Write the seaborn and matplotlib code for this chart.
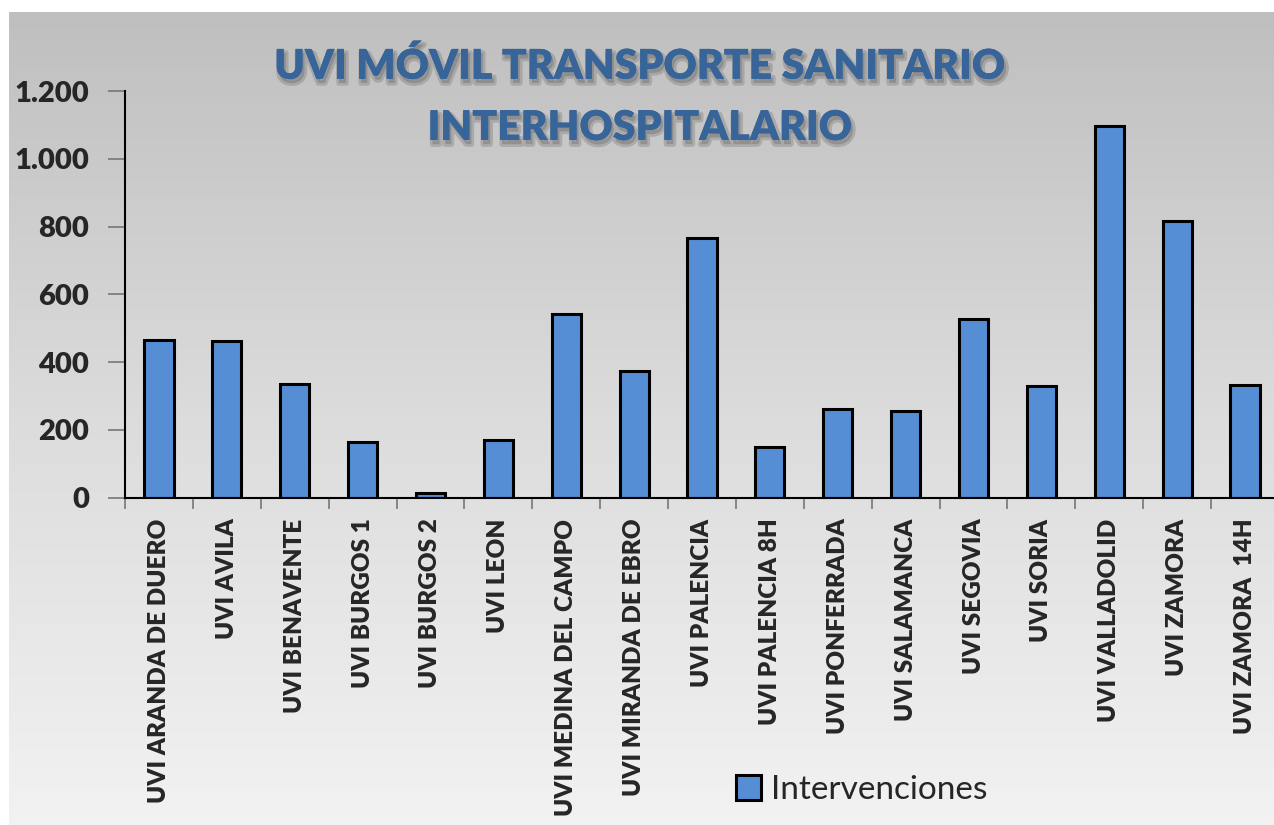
import numpy as np
import pandas as pd
import matplotlib
matplotlib.use("Agg")
import matplotlib.pyplot as plt
import matplotlib.patheffects as pe
from matplotlib.ticker import FuncFormatter
import seaborn as sns

# datos
unidades = ["UVI ARANDA DE DUERO", "UVI AVILA", "UVI BENAVENTE", "UVI BURGOS 1",
            "UVI BURGOS 2", "UVI LEON", "UVI MEDINA DEL CAMPO", "UVI MIRANDA DE EBRO",
            "UVI PALENCIA", "UVI PALENCIA 8H", "UVI PONFERRADA", "UVI SALAMANCA",
            "UVI SEGOVIA", "UVI SORIA", "UVI VALLADOLID", "UVI ZAMORA", "UVI ZAMORA  14H"]
intervenciones = [465, 462, 335, 164, 15, 170, 542, 375, 767, 151, 263, 257, 528, 329, 1098, 817, 334]
serie = "Intervenciones"
titulo = ["UVI MÓVIL TRANSPORTE SANITARIO", "INTERHOSPITALARIO"]

df = pd.DataFrame({"unidad": unidades, "valor": intervenciones, "serie": serie})

sns.set_style("white")
plt.rcParams['font.family'] = ['Lato', 'DejaVu Sans']

W, H = 1274, 825
fig = plt.figure(figsize=(W / 100, H / 100), dpi=100)
fig.patch.set_facecolor("white")

# fondo degradado
bg = fig.add_axes([9 / W, 0, 1, 1 - 12 / H], zorder=-5)
grad = np.linspace(0, 1, 256).reshape(-1, 1)
bg.imshow(grad, aspect="auto", cmap=matplotlib.colors.LinearSegmentedColormap.from_list(
    "g", ["#bfbfbf", "#dcdcdc", "#f2f2f2"]), extent=[0, 1, 0, 1])
bg.axis("off")

ax = fig.add_axes([125 / W, (H - 497.7) / H, 1154 / W, 406.7 / H])
ax.set_facecolor("none")

sns.barplot(data=df, x="unidad", y="valor", hue="serie", palette=["#558ED5"], saturation=1,
            width=0.43, edgecolor="black", linewidth=2.2, ax=ax, legend=True)

ax.set_xlim(-0.5, 16.5)
ax.set_ylim(0, 1200)
ax.set_yticks(range(0, 1201, 200))
ax.yaxis.set_major_formatter(FuncFormatter(lambda v, p: f"{int(v):,}".replace(",", ".")))
ax.set_xticks(np.arange(-0.5, 16.5, 1), minor=False)
ax.set_xticklabels([])
ax.set_xticks(np.arange(0, 17), minor=True)
ax.set_xticklabels(unidades, minor=True, rotation=90, fontsize=17.5, fontweight="heavy", va="top")
ax.tick_params(axis="x", which="major", direction="out", length=8, width=1.2, color="#777777", bottom=True)
ax.tick_params(axis="x", which="minor", length=0, pad=15)
ax.tick_params(axis="y", direction="out", length=12, width=1.2, color="#777777", left=True, pad=14)
for t in ax.get_yticklabels():
    t.set_fontsize(21)
    t.set_fontweight("heavy")
ax.set_xlabel("")
ax.set_ylabel("")
for s in ["top", "right"]:
    ax.spines[s].set_visible(False)
for s in ["left", "bottom"]:
    ax.spines[s].set_color("black")
    ax.spines[s].set_linewidth(1.5)

# leyenda
ax.get_legend().remove()
h, l = ax.get_legend_handles_labels()
fig.legend(h[:1], [serie], loc="center", bbox_to_anchor=(862 / W, 35 / H), frameon=False,
           fontsize=24, handlelength=0.75, handleheight=0.75, handletextpad=0.3)

# título con sombra
sombra = [pe.SimpleLineShadow(offset=(1.5, -3), shadow_color="#555555", alpha=0.25, linewidth=4),
          pe.withSimplePatchShadow(offset=(1.5, -3), shadow_rgbFace="#555555", alpha=0.3), pe.Normal()]
fig.text(640 / W, 1 - 66 / H, titulo[0], ha="center", va="center", fontsize=29.5,
         fontweight="heavy", color="#376499", path_effects=sombra)
fig.text(640 / W, 1 - 128 / H, titulo[1], ha="center", va="center", fontsize=29.5,
         fontweight="heavy", color="#376499", path_effects=sombra)

fig.savefig("out.png", dpi=100)
